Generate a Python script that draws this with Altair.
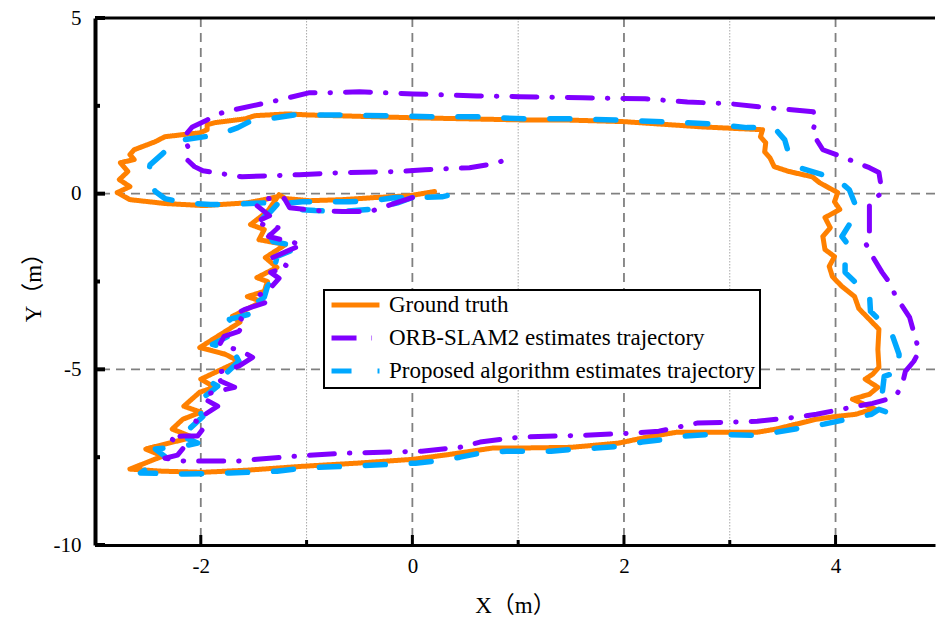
import altair as alt
import pandas as pd

series_names = ["Ground truth", "ORB-SLAM2 estimates trajectory",
                "Proposed algorithm estimates trajectory"]
series_colors = ["#FF8000", "#8000FF", "#00A8FF"]
series_dashes = [[1, 0], [25, 15, 0.5, 15], [20, 26]]

ground_truth = [
    [0.21, 0.06], [-0.03, -0.06], [-0.35, -0.11], [-0.66, -0.17], [-0.97, -0.20], [-1.20, -0.14],
    [-1.26, -0.03], [-1.37, -0.51], [-1.53, -0.88], [-1.40, -1.02], [-1.45, -1.31], [-1.20, -1.45],
    [-1.39, -1.82], [-1.28, -2.10], [-1.47, -2.39], [-1.37, -2.50], [-1.40, -2.78], [-1.56, -2.93],
    [-1.42, -3.07], [-1.70, -3.49], [-1.63, -3.66], [-2.01, -4.38], [-1.77, -4.57], [-1.64, -4.77],
    [-2.00, -5.28], [-1.87, -5.51], [-2.01, -5.65], [-2.16, -6.05], [-2.00, -6.22], [-2.17, -6.42],
    [-2.27, -6.70], [-2.08, -6.93], [-2.52, -7.27], [-2.36, -7.47], [-2.67, -7.84], [-2.36, -7.90],
    [-1.98, -7.93], [-1.56, -7.87], [-1.04, -7.76], [-0.52, -7.67], [0.01, -7.56], [0.38, -7.41],
    [0.76, -7.24], [1.01, -7.24], [1.50, -7.22], [1.95, -7.10], [2.22, -6.93], [2.50, -6.79],
    [2.88, -6.79], [3.26, -6.79], [3.44, -6.70], [3.82, -6.42], [4.01, -6.34], [4.19, -6.28],
    [4.32, -6.16], [4.38, -6.14], [4.16, -5.85], [4.32, -5.71], [4.40, -5.51], [4.28, -5.28],
    [4.35, -5.14], [4.41, -4.94], [4.40, -4.43], [4.41, -3.86], [4.33, -3.61], [4.22, -3.27],
    [4.18, -2.93], [4.06, -2.64], [3.97, -2.36], [3.94, -2.07], [3.99, -1.79], [3.90, -1.59],
    [3.88, -1.22], [3.95, -0.97], [3.90, -0.68], [4.04, -0.45], [3.99, -0.23], [4.02, 0.03],
    [3.85, 0.31], [3.78, 0.48], [3.56, 0.63], [3.42, 0.77], [3.38, 1.02], [3.33, 1.19],
    [3.34, 1.45], [3.29, 1.62], [3.31, 1.82], [2.74, 1.90], [2.00, 2.05], [1.41, 2.10],
    [1.01, 2.10], [0.01, 2.16], [-0.98, 2.24], [-1.18, 2.27], [-1.49, 2.22], [-1.58, 2.13],
    [-1.87, 2.02], [-1.94, 1.96], [-1.94, 1.82], [-2.01, 1.73], [-2.17, 1.68], [-2.34, 1.62],
    [-2.43, 1.48], [-2.63, 1.25], [-2.67, 1.11], [-2.63, 0.97], [-2.76, 0.88], [-2.69, 0.63],
    [-2.77, 0.40], [-2.67, 0.20], [-2.79, 0.03], [-2.67, -0.17], [-2.34, -0.28], [-1.97, -0.34],
    [-1.56, -0.26], [-1.40, -0.17], [-1.28, -0.09],
]

orb_slam2 = [
    [0.00, -0.11], [-0.12, -0.23], [-0.26, -0.37], [-0.40, -0.51], [-0.66, -0.51], [-0.93, -0.48],
    [-1.16, -0.40], [-1.21, -0.14], [-1.40, -0.14], [-1.47, -0.34], [-1.35, -0.63], [-1.49, -0.82],
    [-1.27, -0.97], [-1.36, -1.22], [-1.04, -1.45], [-1.15, -1.59], [-1.32, -1.82], [-1.18, -2.07],
    [-1.34, -2.24], [-1.26, -2.41], [-1.37, -2.78], [-1.44, -2.87], [-1.36, -3.07], [-1.59, -3.30],
    [-1.68, -3.44], [-1.58, -3.64], [-1.64, -3.92], [-1.78, -4.06], [-1.82, -4.29], [-1.61, -4.49],
    [-1.51, -4.66], [-1.64, -4.91], [-1.86, -5.11], [-1.81, -5.34], [-1.68, -5.51], [-1.91, -5.68],
    [-1.98, -5.82], [-1.84, -6.05], [-2.00, -6.36], [-2.06, -6.45], [-1.96, -6.62], [-2.03, -6.90],
    [-2.16, -6.90], [-2.30, -6.93], [-2.16, -7.22], [-2.22, -7.44], [-2.34, -7.53], [-2.16, -7.61],
    [-2.00, -7.61], [-1.65, -7.61], [-1.47, -7.56], [-1.09, -7.47], [-0.66, -7.39], [-0.29, -7.36],
    [0.09, -7.33], [0.45, -7.22], [0.64, -7.07], [1.01, -6.93], [1.58, -6.88], [2.06, -6.82],
    [2.33, -6.76], [2.69, -6.53], [3.26, -6.48], [3.63, -6.36], [3.82, -6.28], [4.15, -6.08],
    [4.35, -5.97], [4.49, -5.85], [4.58, -5.71], [4.63, -5.43], [4.66, -5.06], [4.74, -4.77],
    [4.79, -4.49], [4.75, -4.06], [4.70, -3.52], [4.57, -2.93], [4.51, -2.53], [4.44, -2.24],
    [4.35, -1.79], [4.28, -1.39], [4.32, -1.11], [4.32, -0.82], [4.32, -0.26], [4.44, 0.03],
    [4.41, 0.60], [4.32, 0.74], [4.06, 1.05], [3.88, 1.25], [3.78, 1.73], [3.81, 2.05],
    [3.79, 2.33], [3.39, 2.44], [3.00, 2.56], [2.60, 2.61], [2.20, 2.70], [1.61, 2.73],
    [1.01, 2.76], [0.61, 2.78], [0.01, 2.84], [-0.50, 2.90], [-0.80, 2.87], [-0.98, 2.87],
    [-1.34, 2.61], [-1.78, 2.33], [-1.94, 2.10], [-2.08, 1.90], [-2.16, 1.62], [-2.11, 1.25],
    [-2.13, 0.97], [-2.06, 0.77], [-1.98, 0.65], [-1.61, 0.48], [-1.07, 0.54], [-0.66, 0.60],
    [-0.12, 0.63], [0.12, 0.68], [0.54, 0.74], [0.78, 0.86], [0.97, 1.05],
]

proposed = [
    [0.00, -0.11], [-0.14, -0.26], [-0.41, -0.45], [-0.69, -0.51], [-0.92, -0.48], [-1.16, -0.43],
    [-1.28, -0.31], [-1.34, -0.51], [-1.40, -0.65], [-1.47, -0.88], [-1.37, -1.02], [-1.32, -1.36],
    [-1.06, -1.51], [-1.28, -1.79], [-1.30, -2.07], [-1.28, -2.30], [-1.37, -2.64], [-1.40, -2.95],
    [-1.53, -3.21], [-1.48, -3.38], [-1.73, -3.58], [-1.65, -3.92], [-1.89, -4.29], [-1.70, -4.43],
    [-1.64, -4.77], [-1.80, -5.23], [-1.92, -5.34], [-1.84, -5.48], [-1.91, -5.65], [-2.06, -5.99],
    [-1.98, -6.34], [-2.11, -6.70], [-2.22, -6.85], [-2.03, -7.10], [-2.17, -7.19], [-2.43, -7.27],
    [-2.33, -7.50], [-2.57, -7.95], [-2.15, -7.98], [-1.72, -7.95], [-1.28, -7.90], [-1.04, -7.81],
    [-0.63, -7.76], [-0.18, -7.70], [0.03, -7.67], [0.23, -7.61], [0.45, -7.50], [0.68, -7.36],
    [0.89, -7.33], [1.31, -7.33], [1.54, -7.27], [1.74, -7.24], [1.98, -7.19], [2.17, -7.07],
    [2.40, -6.99], [2.58, -6.90], [2.85, -6.85], [3.26, -6.88], [3.44, -6.79], [3.71, -6.65],
    [3.89, -6.56], [4.11, -6.42], [4.34, -6.28], [4.41, -6.14], [4.49, -6.22], [4.51, -5.99],
    [4.44, -5.71], [4.46, -5.20], [4.60, -5.06], [4.60, -4.57], [4.54, -4.06], [4.46, -3.72],
    [4.33, -3.35], [4.32, -2.81], [4.19, -2.53], [4.09, -2.24], [4.09, -1.88], [4.14, -1.53],
    [4.06, -1.22], [4.13, -0.88], [4.21, -0.54], [4.18, -0.26], [4.13, 0.11], [4.02, 0.40],
    [3.78, 0.63], [3.66, 0.74], [3.56, 1.11], [3.52, 1.53], [3.42, 1.88], [3.16, 1.88],
    [2.80, 1.99], [2.36, 2.05], [1.92, 2.10], [1.48, 2.13], [1.05, 2.13], [0.61, 2.19],
    [0.17, 2.19], [-0.26, 2.22], [-0.70, 2.24], [-1.12, 2.24], [-1.36, 2.13], [-1.54, 2.05],
    [-1.65, 1.88], [-1.83, 1.68], [-2.17, 1.53], [-2.29, 1.34], [-2.36, 1.14], [-2.48, 0.82],
    [-2.50, 0.48], [-2.43, 0.06], [-2.34, -0.14], [-2.15, -0.26], [-1.91, -0.31], [-1.72, -0.31],
    [-1.54, -0.28], [-1.39, -0.26], [-1.20, -0.28], [-1.04, -0.23], [-0.83, -0.23], [-0.60, -0.23],
    [-0.38, -0.20], [-0.16, -0.11], [0.00, -0.11], [0.28, -0.09], [0.45, 0.03],
]

x_major = [-2, 0, 2, 4]
x_minor = [-1, 1, 3]
y_major = [5, 0, -5, -10]
y_minor = [2.5, -2.5, -7.5]
y_grid = [0, -5]
x_domain = [-3, 4.94]
y_domain = [-10, 5]

W, H = 840, 527
FONT = "Liberation Serif, Times New Roman, serif"
TFONT = "Liberation Serif, Noto Sans CJK SC, serif"

rows = []
for name, pts in zip(series_names, [ground_truth, orb_slam2, proposed]):
    for i, (x, y) in enumerate(pts):
        rows.append({"series": name, "i": i, "x": x, "y": y})
df = pd.DataFrame(rows)

xs = alt.Scale(domain=x_domain, nice=False, zero=False)
ys = alt.Scale(domain=y_domain, nice=False, zero=False)

xaxis = alt.Axis(values=x_major, ticks=False, grid=False, domainColor="black", domainWidth=3,
                 labelFont=FONT, labelFontSize=21, labelColor="black", labelPadding=10,
                 labelFlush=False, labelExpr="datum.value + ''",
                 title="X（m）", titleFont=TFONT, titleFontSize=23, titleFontWeight="normal",
                 titleColor="black", titlePadding=18)
yaxis = alt.Axis(values=y_major, ticks=False, grid=False, domainColor="black", domainWidth=4,
                 labelFont=FONT, labelFontSize=21, labelColor="black", labelPadding=14,
                 labelFlush=False, labelExpr="datum.value + ''",
                 title="Y（m）", titleFont=TFONT, titleFontSize=23, titleFontWeight="normal",
                 titleColor="black", titlePadding=8)

legend = alt.Legend(orient="none", legendX=229, legendY=272, title=None,
                    symbolType="stroke", symbolSize=2300, symbolStrokeWidth=5,
                    clipHeight=20, labelFont=FONT, labelFontSize=23, labelColor="black",
                    labelLimit=600, labelOffset=7, padding=5, rowPadding=10,
                    strokeColor="black", fillColor="white")

gx = pd.DataFrame({"v": x_major})
gxm = pd.DataFrame({"v": x_minor})
gy = pd.DataFrame({"v": y_grid})
tym = pd.DataFrame({"v": y_major})
tyn = pd.DataFrame({"v": y_minor})

grid_x = alt.Chart(gx).mark_rule(color="#808080", strokeWidth=1.8, strokeDash=[9, 6]).encode(
    x=alt.X("v:Q", scale=xs, axis=xaxis))
grid_xm = alt.Chart(gxm).mark_rule(color="#a8a8a8", strokeWidth=1, strokeDash=[1.5, 1.5]).encode(
    x=alt.X("v:Q", scale=xs, axis=xaxis))
grid_y = alt.Chart(gy).mark_rule(color="#808080", strokeWidth=1.8, strokeDash=[9, 6]).encode(
    y=alt.Y("v:Q", scale=ys, axis=yaxis))


def line_layer(name, width):
    return alt.Chart(df).transform_filter(alt.datum.series == name).mark_line(
        strokeWidth=width, strokeCap="round", strokeJoin="round").encode(
        x=alt.X("x:Q", scale=xs, axis=xaxis),
        y=alt.Y("y:Q", scale=ys, axis=yaxis),
        order=alt.Order("i:Q"),
        color=alt.Color("series:N", scale=alt.Scale(domain=series_names, range=series_colors),
                        legend=legend),
        strokeDash=alt.StrokeDash("series:N",
                                  scale=alt.Scale(domain=series_names, range=series_dashes),
                                  legend=legend),
    )


l_gt = line_layer(series_names[0], 5)
l_pro = line_layer(series_names[2], 5.5)
l_orb = line_layer(series_names[1], 5)

tick_xM = alt.Chart(gx).mark_rule(color="black", strokeWidth=3).encode(
    x=alt.X("v:Q", scale=xs, axis=xaxis), y=alt.value(H), y2=alt.value(H - 10))
tick_xm = alt.Chart(gxm).mark_rule(color="black", strokeWidth=3).encode(
    x=alt.X("v:Q", scale=xs, axis=xaxis), y=alt.value(H), y2=alt.value(H - 5))
tick_yM = alt.Chart(tym).mark_rule(color="black", strokeWidth=4).encode(
    y=alt.Y("v:Q", scale=ys, axis=yaxis), x=alt.value(0), x2=alt.value(10))
tick_ym = alt.Chart(tyn).mark_rule(color="black", strokeWidth=4).encode(
    y=alt.Y("v:Q", scale=ys, axis=yaxis), x=alt.value(0), x2=alt.value(5))
top_border = alt.Chart(pd.DataFrame({"a": [0]})).mark_rule(color="black", strokeWidth=3).encode(
    x=alt.value(0), x2=alt.value(W), y=alt.value(0))

chart = alt.layer(
    grid_x, grid_xm, grid_y, l_gt, l_pro, l_orb,
    tick_xM, tick_xm, tick_yM, tick_ym, top_border,
).properties(
    width=W, height=H,
    padding={"left": 95, "top": 18, "right": 2, "bottom": 77},
    autosize=alt.AutoSizeParams(type="none"),
    background="white",
).configure_view(stroke=None).configure_legend(strokeWidth=2)

chart.save("out.html", embed_options={"renderer": "svg", "actions": False})
